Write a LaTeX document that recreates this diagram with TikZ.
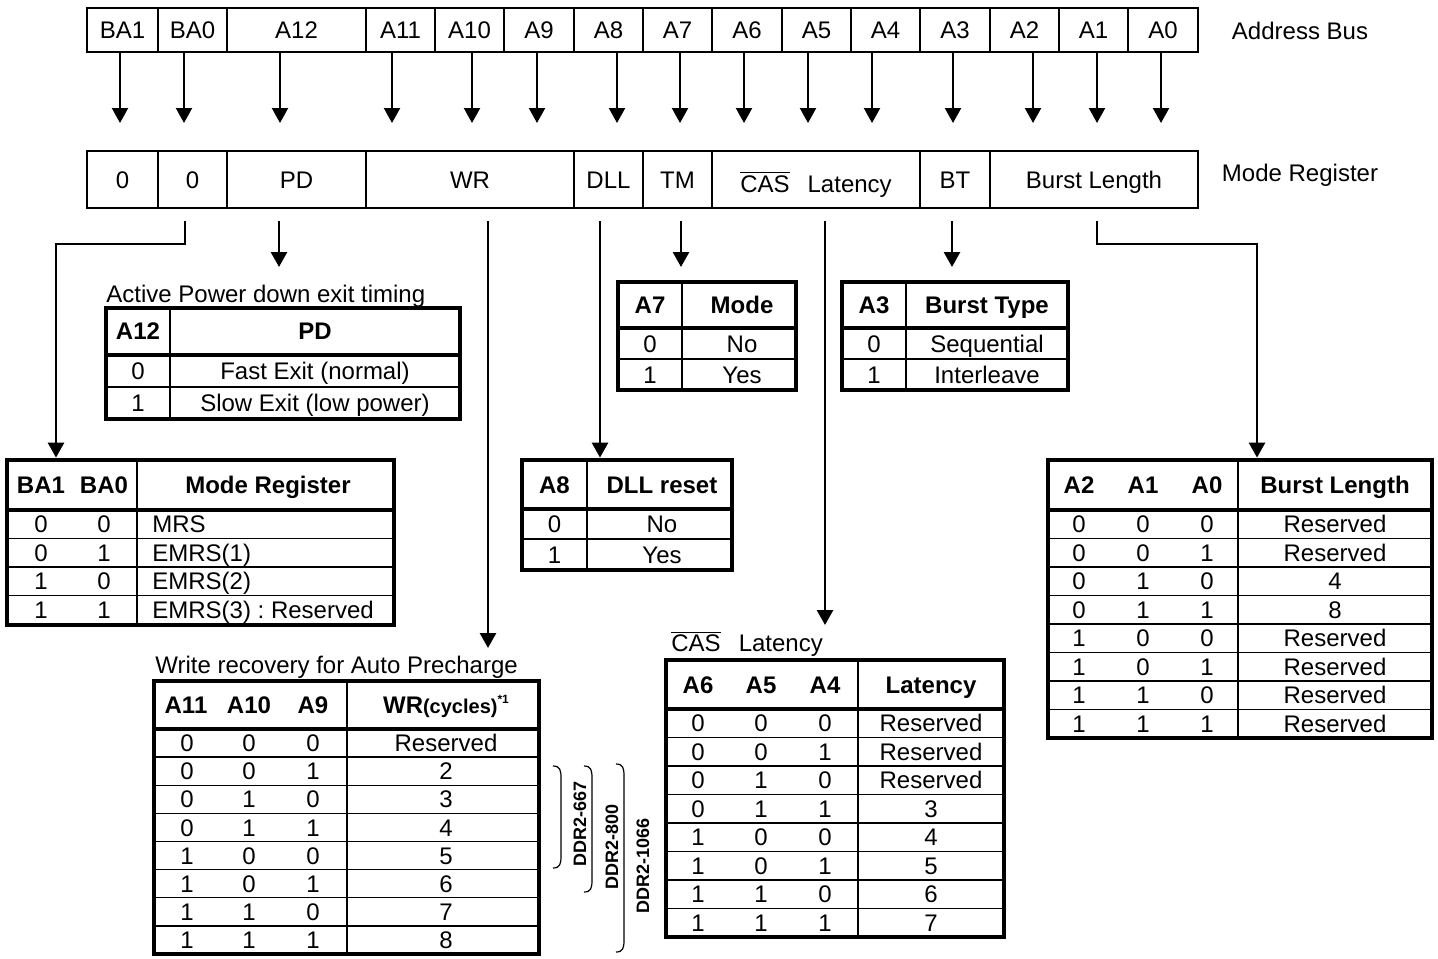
\documentclass[tikz,border=0pt]{standalone}
\usepackage{fontspec}
\setmainfont{Liberation Sans}
\usetikzlibrary{arrows.meta,fit,calc}
\begin{document}
\begin{tikzpicture}[x=0.5pt,y=-0.5pt,
  every node/.style={font=\fontsize{12pt}{14pt}\selectfont},
  tt/.style={inner sep=0pt, text height=8.6pt, text depth=0pt},
  hb/.style={tt, font=\fontsize{12pt}{14pt}\selectfont\bfseries},
  regcell/.style={draw, line width=1pt, inner sep=0pt},
  tframe/.style={draw, line width=2.4pt, inner sep=0pt},
  hdiv/.style={line width=2pt},
  tline/.style={line width=0.7pt},
  arr/.style={line width=1.1pt, -{Triangle[length=7.5pt,width=8pt]}},
  conn/.style={line width=1.4pt, -{Triangle[length=7.5pt,width=8pt]}},
  brace/.style={line width=0.6pt},
  ddr/.style={rotate=90, inner sep=0pt, font=\fontsize{9pt}{11pt}\selectfont\bfseries},
]
\fill[white] (0,0) rectangle (1438,958);
\useasboundingbox (0,0) rectangle (1438,958);

% ---------------- Address bus ----------------
\foreach \xa/\xb/\lab [count=\i] in {87/158/BA1,158/227/BA0,227/366/A12,366/435/A11,435/504/A10,504/574/A9,574/643/A8,643/712/A7,712/782/A6,782/851/A5,851/920/A4,920/990/A3,990/1059/A2,1059/1128/A1,1128/1198/A0}{
  \node[regcell, fit={(\xa,8)(\xb,52)}] (ab\i) {};
  \node[tt] (abt\i) at (ab\i.center) {\lab};
}
\node[tt] (labab) at (1300,31) {Address Bus};

\foreach \i/\dx in {1/-2.5,2/-8.5,3/-16.5,4/-8.5,5/2.5,6/-2,7/8.5,8/2.5,9/-3,10/-8.5,11/-13.5,12/-2,13/8.5,14/3.5,15/-2}
  \draw[arr] ($(ab\i.south)+(\dx,0)$) -- ++(0,70);

% ---------------- Mode register ----------------
\foreach \xa/\xb/\lab [count=\i] in {87/158/0,158/227/0,227/366/PD,366/574/WR,574/643/DLL,643/712/TM,712/920/{},920/990/BT,990/1198/Burst Length}{
  \node[regcell, fit={(\xa,151)(\xb,208)}] (mr\i) {};
  \node[tt] (mrt\i) at (mr\i.center) {\lab};
}
\node[tt, yshift=-2pt] (mrcas) at (mr7.center) {$\overline{\hbox{CAS}}$\hspace{9pt}Latency};
\node[tt] (labmr) at (1300,173) {Mode Register};

% ---------------- PD table ----------------
\draw[tline] (170,308) -- (170,419);
\draw[tline] (106,387) -- (460,387);
\draw[hdiv] (106,355) -- (460,355);
\node[tframe, fit={(106,308)(460,419)}] (tPD) {};
\node[tt, anchor=west] (capPD) at (106,294) {Active Power down exit timing};
\node[hb] (pdh1) at (138,331) {A12};
\node[hb] (pdh2) at (315,331) {PD};
\node[tt] (pda1) at (138,371) {0};
\node[tt] (pdb1) at (315,371) {Fast Exit (normal)};
\node[tt] (pda2) at (138,403) {1};
\node[tt] (pdb2) at (315,403) {Slow Exit (low power)};

% ---------------- TM table ----------------
\draw[tline] (682,282) -- (682,390);
\draw[tline] (618,359) -- (796,359);
\draw[hdiv] (618,328) -- (796,328);
\node[tframe, fit={(618,282)(796,390)}] (tTM) {};
\node[hb] (tmh1) at (650,305) {A7};
\node[hb] (tmh2) at (742,305) {Mode};
\node[tt] (tma1) at (650,343.5) {0};
\node[tt] (tmb1) at (742,343.5) {No};
\node[tt] (tma2) at (650,374.5) {1};
\node[tt] (tmb2) at (742,374.5) {Yes};

% ---------------- BT table ----------------
\draw[tline] (906,282) -- (906,390);
\draw[tline] (842,359) -- (1068,359);
\draw[hdiv] (842,328) -- (1068,328);
\node[tframe, fit={(842,282)(1068,390)}] (tBT) {};
\node[hb] (bth1) at (874,305) {A3};
\node[hb] (bth2) at (987,305) {Burst Type};
\node[tt] (bta1) at (874,343.5) {0};
\node[tt] (btb1) at (987,343.5) {Sequential};
\node[tt] (bta2) at (874,374.5) {1};
\node[tt] (btb2) at (987,374.5) {Interleave};

% ---------------- DLL table ----------------
\draw[tline] (587,460) -- (587,570);
\draw[tline] (522,539) -- (732,539);
\draw[hdiv] (522,509) -- (732,509);
\node[tframe, fit={(522,460)(732,570)}] (tDLL) {};
\node[hb] (dlh1) at (554.5,485) {A8};
\node[hb] (dlh2) at (662,485) {DLL reset};
\node[tt] (dla1) at (554.5,524) {0};
\node[tt] (dlb1) at (662,524) {No};
\node[tt] (dla2) at (554.5,554.5) {1};
\node[tt] (dlb2) at (662,554.5) {Yes};

% ---------------- BA table ----------------
\draw[tline] (137,460) -- (137,625);
\foreach \i in {1,2,3} \draw[tline] (7,{510+28.5*\i}) -- (394,{510+28.5*\i});
\draw[hdiv] (7,510) -- (394,510);
\node[tframe, fit={(7,460)(394,625)}] (tBA) {};
\node[hb] (bah1) at (41,485) {BA1};
\node[hb] (bah2) at (104,485) {BA0};
\node[hb] (bah3) at (268,485) {Mode Register};
\foreach \a/\b/\t [count=\i] in {0/0/MRS,0/1/EMRS(1),1/0/EMRS(2),1/1/{EMRS(3)~:~Reserved}} {
  \pgfmathsetmacro\yy{510+28.5*(\i-0.5)}
  \node[tt] (baa\i) at (41,\yy) {\a};
  \node[tt] (bab\i) at (104,\yy) {\b};
  \node[tt, anchor=west] (bat\i) at (152,\yy) {\t};
}

% ---------------- Burst length table ----------------
\draw[tline] (1238,460) -- (1238,738);
\foreach \i in {1,...,7} \draw[tline] (1048,{510+28.5*\i}) -- (1432,{510+28.5*\i});
\draw[hdiv] (1048,510) -- (1432,510);
\node[tframe, fit={(1048,460)(1432,738)}] (tBL) {};
\node[hb] (blh1) at (1079,485) {A2};
\node[hb] (blh2) at (1143,485) {A1};
\node[hb] (blh3) at (1207,485) {A0};
\node[hb] (blh4) at (1335,485) {Burst Length};
\foreach \a/\b/\c/\v [count=\i] in {0/0/0/Reserved,0/0/1/Reserved,0/1/0/4,0/1/1/8,1/0/0/Reserved,1/0/1/Reserved,1/1/0/Reserved,1/1/1/Reserved} {
  \pgfmathsetmacro\yy{510+28.5*(\i-0.5)}
  \node[tt] (bla\i) at (1079,\yy) {\a};
  \node[tt] (blb\i) at (1143,\yy) {\b};
  \node[tt] (blc\i) at (1207,\yy) {\c};
  \node[tt] (blv\i) at (1335,\yy) {\v};
}

% ---------------- WR table ----------------
\draw[tline] (347,681) -- (347,954);
\foreach \i in {1,...,7} \draw[tline] (154,{729+28.125*\i}) -- (539,{729+28.125*\i});
\draw[hdiv] (154,729) -- (539,729);
\node[tframe, fit={(154,681)(539,954)}] (tWR) {};
\node[tt, anchor=west] (capWR) at (155,665) {Write recovery for Auto Precharge};
\node[hb] (wrh1) at (186,705) {A11};
\node[hb] (wrh2) at (249,705) {A10};
\node[hb] (wrh3) at (313,705) {A9};
\node[hb] (wrh4) at (446,705) {WR{\fontsize{10pt}{12pt}\selectfont(cycles)}\raisebox{5pt}{\fontsize{6pt}{7pt}\selectfont *1}};
\foreach \a/\b/\c/\v [count=\i] in {0/0/0/Reserved,0/0/1/2,0/1/0/3,0/1/1/4,1/0/0/5,1/0/1/6,1/1/0/7,1/1/1/8} {
  \pgfmathsetmacro\yy{729+28.125*(\i-0.5)}
  \node[tt] (wra\i) at (187,\yy) {\a};
  \node[tt] (wrb\i) at (249,\yy) {\b};
  \node[tt] (wrc\i) at (313,\yy) {\c};
  \node[tt] (wrv\i) at (446,\yy) {\v};
}

% braces
\draw[brace] (553,766) .. controls (560,766) and (561,770) .. (561,778) -- (561,856) .. controls (561,864) and (560,868) .. (553,868);
\draw[brace] (584,766) .. controls (591,766) and (592,770) .. (592,778) -- (592,880) .. controls (592,888) and (591,892) .. (584,892);
\draw[brace] (616,764) .. controls (623,764) and (624,768) .. (624,776) -- (624,940) .. controls (624,948) and (623,952) .. (616,952);
\node[ddr] (d667) at (580,824) {DDR2-667};
\node[ddr] (d800) at (612,847) {DDR2-800};
\node[ddr] (d1066) at (643,866) {DDR2-1066};

% ---------------- CAS latency table ----------------
\draw[tline] (858,660) -- (858,937);
\foreach \i in {1,...,7} \draw[tline] (666,{709+28.5*\i}) -- (1004,{709+28.5*\i});
\draw[hdiv] (666,709) -- (1004,709);
\node[tframe, fit={(666,660)(1004,937)}] (tCL) {};
\node[tt, anchor=west] (capCL) at (671,643) {$\overline{\hbox{CAS}}$\hspace{9pt}Latency};
\node[hb] (clh1) at (698,685) {A6};
\node[hb] (clh2) at (761,685) {A5};
\node[hb] (clh3) at (825,685) {A4};
\node[hb] (clh4) at (931,685) {Latency};
\foreach \a/\b/\c/\v [count=\i] in {0/0/0/Reserved,0/0/1/Reserved,0/1/0/Reserved,0/1/1/3,1/0/0/4,1/0/1/5,1/1/0/6,1/1/1/7} {
  \pgfmathsetmacro\yy{709+28.5*(\i-0.5)}
  \node[tt] (cla\i) at (698,\yy) {\a};
  \node[tt] (clb\i) at (761,\yy) {\b};
  \node[tt] (clc\i) at (825,\yy) {\c};
  \node[tt] (clv\i) at (931,\yy) {\v};
}

% ---------------- connectors from mode register ----------------
\coordinate (sBA) at (185,0);
\coordinate (kBA) at (56,244);
\draw[conn] ($(sBA |- mr2.south)+(0,12)$) |- (kBA) -- (kBA |- tBA.north);
\coordinate (ePD) at (279,267);
\draw[conn] ($(ePD |- mr3.south)+(0,12)$) -- (ePD);
\coordinate (eWR) at (488,648);
\draw[conn] ($(eWR |- mr4.south)+(0,12)$) -- (eWR);
\coordinate (sDLL) at (600,0);
\draw[conn] ($(sDLL |- mr5.south)+(0,12)$) -- (sDLL |- tDLL.north);
\coordinate (eTM) at (681,267);
\draw[conn] ($(eTM |- mr6.south)+(0,12)$) -- (eTM);
\coordinate (eCL) at (825,625);
\draw[conn] ($(eCL |- mr7.south)+(0,12)$) -- (eCL);
\coordinate (eBT) at (952,267);
\draw[conn] ($(eBT |- mr8.south)+(0,12)$) -- (eBT);
\coordinate (sBL) at (1097,0);
\coordinate (kBL) at (1257,244);
\draw[conn] ($(sBL |- mr9.south)+(0,12)$) |- (kBL) -- (kBL |- tBL.north);

\end{tikzpicture}
\end{document}
